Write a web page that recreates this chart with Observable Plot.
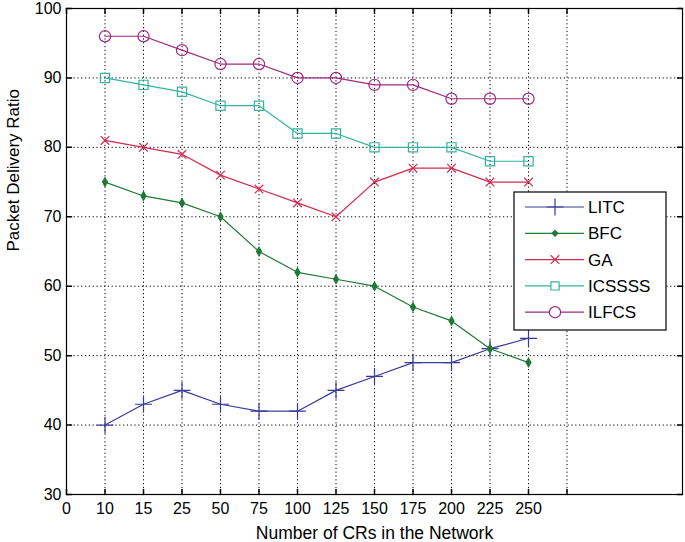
<!DOCTYPE html>
<html>
<head>
<meta charset="utf-8">
<script src="https://cdn.jsdelivr.net/npm/d3@7"></script>
<script src="https://cdn.jsdelivr.net/npm/@observablehq/plot@0.6"></script>
<style>
  html, body { margin: 0; padding: 0; background: #fff; }
  #chart { position: relative; width: 685px; height: 542px; }
  svg { font-family: "Liberation Sans", Arial, sans-serif; }
</style>
</head>
<body>
<div id="chart"></div>
<script>
// ---- data ----
const xTickLabels = ["0", "10", "15", "25", "50", "75", "100", "125", "150", "175", "200", "225", "250"];
const nodeCounts = [10, 15, 25, 50, 75, 100, 125, 150, 175, 200, 225, 250];
const seriesNames = ["LITC", "BFC", "GA", "ICSSSS", "ILFCS"];
const litc   = [40, 43, 45, 43, 42, 42, 45, 47, 49, 49, 51, 52.5];
const bfc    = [75, 73, 72, 70, 65, 62, 61, 60, 57, 55, 51, 49];
const ga     = [81, 80, 79, 76, 74, 72, 70, 75, 77, 77, 75, 75];
const icssss = [90, 89, 88, 86, 86, 82, 82, 80, 80, 80, 78, 78];
const ilfcs  = [96, 96, 94, 92, 92, 90, 90, 89, 89, 87, 87, 87];
const yTicks = [30, 40, 50, 60, 70, 80, 90, 100];

const seriesValues = [litc, bfc, ga, icssss, ilfcs];
const colors = ["#3a3a9c", "#1e7a36", "#d42a50", "#35b3a0", "#a02a82"];
const symbols = ["plus", "diamond", "times", "square", "circle"];
const radii = [5.5, 2.6, 4, 5.2, 5.6];

// tidy table: x = position index of the node count on the categorical axis
const rows = [];
seriesNames.forEach((name, s) => {
  seriesValues[s].forEach((v, i) => {
    rows.push({series: name, s, x: xTickLabels.indexOf(String(nodeCounts[i])), n: nodeCounts[i], y: v});
  });
});

const xTickIdx = d3.range(0, xTickLabels.length + 1); // 0..13 (13 has no label)
const tickShape = {draw(ctx, l) { ctx.moveTo(0, 0); ctx.lineTo(0, -l); }};
const gridStyle = {stroke: "#000", strokeOpacity: 1, strokeWidth: 1, strokeDasharray: "1.2,2.6"};

const marks = [
  Plot.gridX(xTickIdx.filter(d => d > 0), gridStyle),
  Plot.gridY(yTicks.filter(d => d > 30 && d < 100), gridStyle),
  Plot.frame({stroke: "#000", strokeWidth: 1.2}),
  // inward ticks
  Plot.vector(xTickIdx, {x: d => d, frameAnchor: "bottom", anchor: "start", length: 5, rotate: 0, shape: tickShape, stroke: "#000"}),
  Plot.vector(xTickIdx, {x: d => d, frameAnchor: "top", anchor: "start", length: 5, rotate: 180, shape: tickShape, stroke: "#000"}),
  Plot.vector(yTicks, {y: d => d, frameAnchor: "left", anchor: "start", length: 5, rotate: 90, shape: tickShape, stroke: "#000"}),
  Plot.vector(yTicks, {y: d => d, frameAnchor: "right", anchor: "start", length: 5, rotate: -90, shape: tickShape, stroke: "#000"}),
  Plot.axisX(d3.range(0, xTickLabels.length), {tickSize: 0, tickPadding: 8, tickFormat: i => xTickLabels[i], fontSize: 16, label: null, fill: "#000"}),
  Plot.axisY(yTicks, {tickSize: 0, tickPadding: 5, fontSize: 16, label: null, fill: "#000"}),
  ...seriesNames.map((name, s) =>
    Plot.line(rows.filter(r => r.s === s), {x: "x", y: "y", stroke: colors[s], strokeWidth: 1.2})
  ),
  ...seriesNames.map((name, s) =>
    Plot.dot(rows.filter(r => r.s === s), {
      x: "x", y: "y", symbol: () => symbols[s], r: radii[s],
      stroke: colors[s], strokeWidth: 1.2,
      fill: symbols[s] === "diamond" ? colors[s] : "none"
    })
  ),
  Plot.text(["Number of CRs in the Network"], {frameAnchor: "bottom", dy: 44, fontSize: 17.5, fill: "#000"}),
  Plot.text(["Packet Delivery Ratio"], {frameAnchor: "left", dx: -53, rotate: -90, fontSize: 17, fill: "#000"})
];

const plot = Plot.plot({
  width: 685,
  height: 542,
  marginLeft: 66,
  marginRight: 3,
  marginTop: 8,
  marginBottom: 48,
  style: {fontFamily: "Liberation Sans, Arial, sans-serif", fontSize: "16px", color: "#000", background: "#fff", overflow: "visible"},
  x: {type: "linear", domain: [0, 16], axis: null},
  y: {type: "linear", domain: [30, 100], axis: null},
  symbol: {type: "identity"},
  marks
});

// legend inside the plot (box with line + marker samples)
const svg = d3.select(plot);
const lg = svg.append("g").attr("transform", "translate(514,192)");
lg.append("rect").attr("width", 152).attr("height", 138).attr("fill", "#fff").attr("stroke", "#000").attr("stroke-width", 1.2);
const symMap = {plus: d3.symbolPlus, diamond: d3.symbolDiamond2, times: d3.symbolTimes, square: d3.symbolSquare2, circle: d3.symbolCircle};
seriesNames.forEach((name, s) => {
  const y = 15 + s * 26.3;
  const g = lg.append("g").attr("transform", `translate(0,${y})`);
  g.append("line").attr("x1", 11).attr("x2", 70).attr("y1", 0).attr("y2", 0).attr("stroke", colors[s]).attr("stroke-width", 1.2);
  g.append("path").attr("transform", "translate(41,0)")
    .attr("d", d3.symbol(symMap[symbols[s]], Math.PI * radii[s] * radii[s])())
    .attr("fill", symbols[s] === "diamond" ? colors[s] : "#fff")
    .attr("stroke", colors[s]).attr("stroke-width", 1.2);
  g.append("text").attr("x", 74).attr("y", 0).attr("dy", "0.35em")
    .attr("text-anchor", "start").attr("font-size", 17).attr("fill", "#000").text(name);
});

document.getElementById("chart").appendChild(plot);
</script>
</body>
</html>
